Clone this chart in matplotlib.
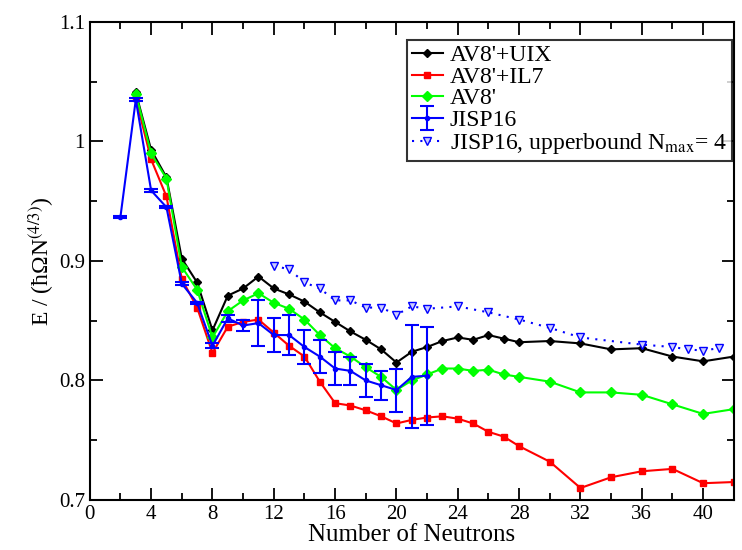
import matplotlib.pyplot as plt
from matplotlib.ticker import MultipleLocator, FuncFormatter

# Data
n_av = [3, 4, 5, 6, 7, 8, 9, 10, 11, 12, 13, 14, 15, 16, 17, 18, 19, 20,
        21, 22, 23, 24, 25, 26, 27, 28, 30, 32, 34, 36, 38, 40, 42]
e_uix = [1.041, 0.993, 0.970, 0.902, 0.882, 0.842, 0.871, 0.877, 0.887, 0.877,
         0.872, 0.866, 0.857, 0.849, 0.841, 0.834, 0.826, 0.815,
         0.824, 0.828, 0.833, 0.836, 0.834, 0.838, 0.835, 0.832, 0.833,
         0.831, 0.826, 0.827, 0.820, 0.816, 0.820]
e_il7 = [1.036, 0.985, 0.954, 0.885, 0.861, 0.823, 0.845, 0.849, 0.851, 0.840,
         0.829, 0.820, 0.799, 0.781, 0.779, 0.775, 0.770, 0.764,
         0.767, 0.769, 0.770, 0.768, 0.764, 0.757, 0.753, 0.745, 0.732,
         0.710, 0.719, 0.724, 0.726, 0.714, 0.715]
e_av8 = [1.040, 0.990, 0.969, 0.895, 0.876, 0.836, 0.858, 0.867, 0.873, 0.865,
         0.860, 0.851, 0.838, 0.827, 0.820, 0.811, 0.803, 0.792,
         0.800, 0.805, 0.810, 0.810, 0.808, 0.809, 0.805, 0.803, 0.799,
         0.790, 0.790, 0.788, 0.780, 0.772, 0.776]

n_jisp = [2, 3, 4, 5, 6, 7, 8, 9, 10, 11, 12, 13, 14, 15, 16, 17, 18, 19, 20, 21, 22]
e_jisp = [0.937, 1.035, 0.959, 0.945, 0.881, 0.865, 0.829, 0.852, 0.846, 0.848,
          0.838, 0.838, 0.828, 0.820, 0.810, 0.808, 0.800, 0.796, 0.792, 0.803, 0.804]
err_jisp = [0.001, 0.001, 0.001, 0.001, 0.001, 0.001, 0.002, 0.003, 0.005, 0.019,
            0.014, 0.017, 0.014, 0.014, 0.014, 0.012, 0.014, 0.012, 0.018, 0.043, 0.041]

n_ub = [12, 13, 14, 15, 16, 17, 18, 19, 20, 21, 22, 24, 26, 28, 30, 32, 36, 38, 39, 40, 41]
e_ub = [0.896, 0.893, 0.882, 0.877, 0.867, 0.867, 0.861, 0.861, 0.855, 0.862, 0.860,
        0.862, 0.857, 0.851, 0.844, 0.836, 0.830, 0.828, 0.826, 0.825, 0.827]

plt.rcParams['font.family'] = ['Liberation Serif', 'DejaVu Serif']
plt.rcParams['mathtext.fontset'] = 'stix'

fig = plt.figure(figsize=(7.42, 5.5), dpi=100)
ax = fig.add_axes([0.121, 0.091, 0.868, 0.869])

h1, = ax.plot(n_av, e_uix, color='black', lw=1.5, marker='D', ms=4, label="AV8'+UIX")
h2, = ax.plot(n_av, e_il7, color='#ff0000', lw=1.5, marker='s', ms=5, label="AV8'+IL7")
h3, = ax.plot(n_av, e_av8, color='#00ff00', lw=1.5, marker='D', ms=5, label="AV8'")
h4 = ax.errorbar(n_jisp, e_jisp, yerr=err_jisp, color='#0000ff', lw=1.5, marker='o', ms=3,
                 capsize=5, elinewidth=1.5, capthick=1.5, label='JISP16')
h5, = ax.plot(n_ub, e_ub, color='#0000ff', lw=1.5, ls=(0, (1, 3)), marker='v', ms=6,
              mfc='#ccccff', mec='#0000ff', label=r'JISP16, upperbound N$_{\mathrm{max}}$= 4')

ax.set_xlim(0, 42)
ax.set_ylim(0.7, 1.1)
ax.xaxis.set_major_locator(MultipleLocator(4))
ax.xaxis.set_minor_locator(MultipleLocator(2))
ax.yaxis.set_major_locator(MultipleLocator(0.1))
ax.yaxis.set_minor_locator(MultipleLocator(0.05))
ax.yaxis.set_major_formatter(FuncFormatter(lambda v, p: '%g' % round(v, 2)))
ax.tick_params(which='both', direction='in', top=True, right=True, width=1.3, labelsize=15)
ax.tick_params(which='major', length=9)
ax.tick_params(which='minor', length=5)
for s in ax.spines.values():
    s.set_linewidth(1.5)

ax.set_xlabel('Number of Neutrons', fontsize=18, labelpad=0)
ax.set_ylabel('E / (ħΩN$^{(4/3)}$)', fontsize=17, labelpad=2)

leg = ax.legend(handles=[h1, h2, h3, h4, h5], loc='upper right', fontsize=17,
                handlelength=1.3, labelspacing=0.0, borderpad=0.2, handletextpad=0.3,
                borderaxespad=0, fancybox=False, frameon=True, edgecolor='black',
                bbox_to_anchor=(0.997, 0.962))
leg.get_frame().set_linewidth(1.5)

fig.savefig('out.png', dpi=100)
